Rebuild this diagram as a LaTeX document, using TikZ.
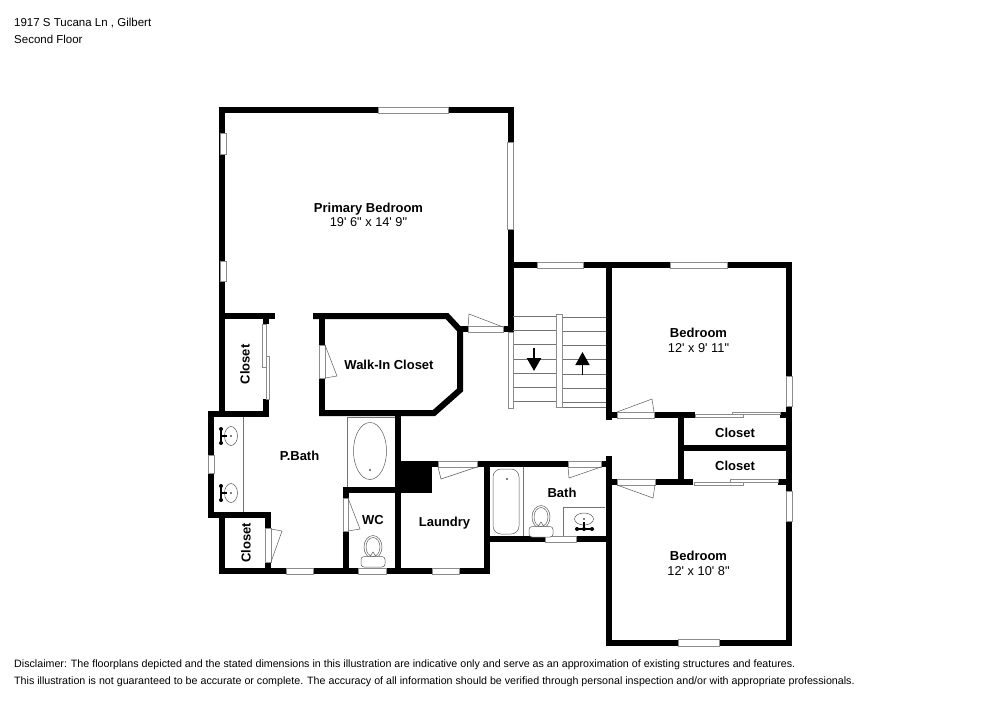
\documentclass[tikz,border=0pt]{standalone}
\usepackage{fontspec}
\setmainfont{Liberation Sans}[Ligatures=TeXOff]
\usetikzlibrary{arrows.meta}
\tikzset{
  wall/.style={line width=6pt,black},
  thinline/.style={line width=0.7pt,black!55},
  opening/.style={line width=0.6pt,draw=black!45,fill=white},
  leaf/.style={line width=0.5pt,black!65},
  roomname/.style={font=\fontsize{13}{15}\selectfont\bfseries,inner sep=0pt,anchor=base},
  roomsize/.style={font=\fontsize{12.8}{15}\selectfont,inner sep=0pt,anchor=base},
  headtext/.style={font=\fontsize{11.5}{13}\selectfont,anchor=base west,inner sep=0pt},
  pagetext/.style={font=\fontsize{10.68}{12}\selectfont,anchor=base west,inner sep=0pt},
  downarrow/.style={line width=2.5pt,-{Triangle[width=14pt,length=13pt]}},
  uparrow/.style={line width=1.5pt,-{Triangle[width=14pt,length=13pt]}}
}
\begin{document}
\begin{tikzpicture}[x=1pt,y=-1pt]
  \useasboundingbox (0,0) rectangle (1000,707);
  % walls
  \draw[wall] (222,416) -- (222,110) -- (511,110) -- (511,332);
  \draw[wall] (503,329) -- (514,329);
  \draw[wall] (219,316) -- (275,316);
  \draw[wall] (266,316) -- (266,324);
  \draw[wall] (266,399) -- (266,417);
  \draw[wall] (208,414) -- (269,414);
  \draw[wall] (211,411) -- (211,518);
  \draw[wall] (208,515) -- (271,515);
  \draw[wall] (222,515) -- (222,574);
  \draw[wall] (268,512) -- (268,571);
  \draw[wall] (219,571) -- (490,571);
  \draw[wall] (313,316) -- (447,316) -- (460,330) -- (460,390) -- (434,413) -- (319,413);
  \draw[wall] (322,313) -- (322,416);
  \draw[wall] (457,329) -- (468,329);
  \draw[wall] (398,413) -- (398,571);
  \fill (401,461) rectangle (432,493);
  \draw[wall] (398,464) -- (611,464);
  \draw[wall] (343,490) -- (401,490);
  \draw[wall] (346,487) -- (346,571);
  \draw[wall] (487,461) -- (487,574);
  \draw[wall] (484,539) -- (611,539);
  \draw[wall] (609,456) -- (609,646);
  \draw[wall] (606,482) -- (693,482);
  \draw[wall] (606,415) -- (695,415);
  \draw[wall] (609,262) -- (609,420);
  \draw[wall] (508,265) -- (792,265);
  \draw[wall] (789,262) -- (789,646);
  \draw[wall] (606,642.5) -- (792,642.5);
  \draw[wall] (681,412) -- (681,485);
  \draw[wall] (684,448) -- (786,448);
  \draw[wall] (778,482) -- (786,482);
  \draw[wall] (780,415) -- (786,415);
  % windows and door openings
  \foreach \xa/\ya/\xb/\yb in {378/107/448/113,220/133/226/154,220/261/226/281,507/142/513/229,
      537/262/583/268,670/262/727/268,786/376/792/406,786/491/792/521,678/639/719/646,
      286/568/313/574,358/568/386/574,432/568/459/574,545/536/576/542,208/455/214/473,
      468/326/503/332,319/345/325/378,265/528/271/562,343/498/348/531,438/461/477/467,
      568/461/601/467,617/412/654/418,617/479/655/485}
    \draw[opening] (\xa,\ya) rectangle (\xb,\yb);
  % sliding doors
  \foreach \xa/\ya/\xb/\yb in {262/324/266/367,266/356/269/399,695/414/743/417,732/412/780/414,
      694/482/743/485,730/479/778/482}
    \draw[opening] (\xa,\ya) rectangle (\xb,\yb);
  % door leaves
  \draw[leaf] (503,327) -- (469,314) -- (468,327);
  \draw[leaf] (325,345) -- (337,376) -- (325,378);
  \draw[leaf] (271,529) -- (282,531) -- (271,562);
  \draw[leaf] (348,498) -- (360,529) -- (348,531);
  \draw[leaf] (477,467) -- (441,479) -- (438,467);
  \draw[leaf] (601,467) -- (569,478) -- (568,467);
  \draw[leaf] (617,412) -- (652,399) -- (654,412);
  \draw[leaf] (617,485) -- (653,498) -- (655,485);
  % stairs
  \foreach \y in {316,330,344,359,373,387,401}
    \draw[thinline] (513,\y) -- (556,\y);
  \foreach \y in {317,331,345,359,374,388,402,407}
    \draw[thinline] (562,\y) -- (606,\y);
  \draw[opening] (508,332) rectangle (513,408);
  \draw[opening] (556,314) rectangle (562,407);
  \draw[downarrow] (534,348) -- (534,371);
  \draw[uparrow] (582.5,375) -- (582.5,352);
  % primary bath fixtures
  \draw[thinline] (243,417) -- (243,512);
  \draw[thinline] (347,487) -- (347,417) -- (395,417);
  \draw[leaf] (370,451) ellipse[x radius=16.5,y radius=28.5];
  \fill (370,470) circle[radius=0.8];
  \foreach \y in {436,493} {
    \draw[leaf] (231,\y) ellipse[x radius=6.5,y radius=9.5];
    \draw[line width=1.2pt] (221,\y-7) -- (221,\y+7);
    \draw[line width=1.2pt] (221,\y) -- (227,\y);
    \fill (221,\y-7) circle[radius=2] (221,\y+7) circle[radius=2] (231,\y) circle[radius=0.8];
  }
  % toilets
  \foreach \x/\y in {373/547,541/517} {
    \draw[leaf] (\x,\y) ellipse[x radius=9,y radius=11.5];
    \draw[leaf] (\x,\y) ellipse[x radius=7,y radius=9.5];
    \draw[leaf,fill=white,rounded corners=3pt] (\x-12,\y+9.5) rectangle (\x+12,\y+20);
    \draw[leaf] (\x-3,\y+9.5) -- (\x,\y+5) -- (\x+3,\y+9.5);
  }
  % bath fixtures
  \draw[leaf,rounded corners=8pt] (493,469) rectangle (519,534);
  \fill (507,479) circle[radius=0.8];
  \draw[thinline] (523,467) -- (523,536);
  \draw[thinline] (563,536) -- (563,507) -- (605,507);
  \draw[leaf] (584,519) ellipse[x radius=9.5,y radius=6];
  \draw[line width=1.2pt] (577,529) -- (592,529);
  \draw[line width=1.2pt] (584,522) -- (584,529);
  \fill (577,529) circle[radius=2] (592,529) circle[radius=2] (584,529) circle[radius=2] (584,519) circle[radius=0.8];
  % room labels
  \node[roomname] (primaryname) at (368.5,212) {Primary Bedroom};
  \node[roomsize] (primarysize) at (368.5,226.5) {19' 6" x 14' 9"};
  \node[roomname] (bed1name) at (698.5,337.5) {Bedroom};
  \node[roomsize] (bed1size) at (698.5,352) {12' x 9' 11"};
  \node[roomname] (bed2name) at (698.5,560.5) {Bedroom};
  \node[roomsize] (bed2size) at (698.5,575) {12' x 10' 8"};
  \node[roomname] (walkinname) at (389,369) {Walk-In Closet};
  \node[roomname] (pbathname) at (299.5,460) {P.Bath};
  \node[roomname] (wcname) at (373,524) {WC};
  \node[roomname] (laundryname) at (444.5,526) {Laundry};
  \node[roomname] (bathname) at (562,497) {Bath};
  \node[roomname] (closetaname) at (735,437) {Closet};
  \node[roomname] (closetbname) at (735,470) {Closet};
  \node[roomname,rotate=90] (closetcname) at (249.5,364.5) {Closet};
  \node[roomname,rotate=90] (closetdname) at (250.5,543) {Closet};
  % page text
  \node[headtext] (addressline) at (14,26.5) {1917 S Tucana Ln , Gilbert};
  \node[headtext] (floorline) at (14,43) {Second Floor};
  \node[pagetext] (disclaimerone) at (14,667) {Disclaimer: The floorplans depicted and the stated dimensions in this illustration are indicative only and serve as an approximation of existing structures and features.};
  \node[pagetext] (disclaimertwo) at (14,684) {This illustration is not guaranteed to be accurate or complete. The accuracy of all information should be verified through personal inspection and/or with appropriate professionals.};
\end{tikzpicture}
\end{document}
